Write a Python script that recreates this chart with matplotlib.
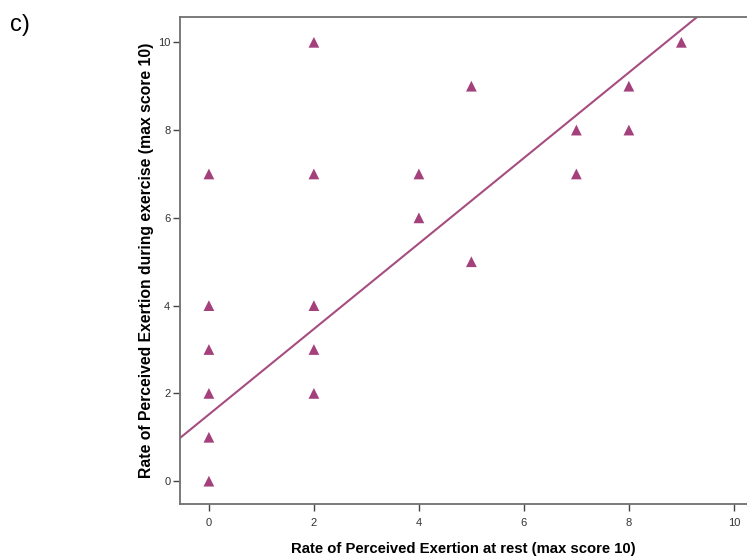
import matplotlib
matplotlib.use('Agg')
import matplotlib.pyplot as plt
import numpy as np

# Rate of perceived exertion: at rest (x) vs during exercise (y)
rest = [0, 0, 0, 0, 0, 0, 2, 2, 2, 2, 2, 4, 4, 5, 5, 7, 7, 8, 8, 9]
exercise = [0, 1, 2, 3, 4, 7, 2, 3, 4, 7, 10, 6, 7, 5, 9, 7, 8, 8, 9, 10]

# fit line
fit_intercept = 1.52
fit_slope = 0.974

ticks = [0, 2, 4, 6, 8, 10]
colour = '#a4417c'

fig = plt.figure(figsize=(7.47, 5.58), dpi=100)
ax = fig.add_axes([0.241, 0.0968, 0.759, 0.873])

xlim = (-0.55, 10.25)
ylim = (-0.52, 10.58)

xs = np.array(xlim)
ax.plot(xs, fit_intercept + fit_slope * xs, color='#a64d80', lw=1.5, zorder=2)
ax.scatter(rest, exercise, marker='^', s=60, color=colour, edgecolors='none', zorder=3)

ax.set_xlim(*xlim)
ax.set_ylim(*ylim)
ax.set_xticks(ticks)
ax.set_yticks(ticks)

for side in ['left', 'top', 'bottom']:
    ax.spines[side].set_color('#707070')
    ax.spines[side].set_linewidth(1.3)
ax.spines['right'].set_visible(False)

ax.tick_params(direction='out', length=5, width=1, color='#444444',
               labelsize=8, labelcolor='#333333', pad=2)
for lab in ax.get_xticklabels() + ax.get_yticklabels():
    lab.set_family('Liberation Sans')
ax.tick_params(axis='x', pad=5)

ax.set_xlabel('Rate of Perceived Exertion at rest (max score 10)',
              fontsize=10.7, fontweight='bold', family='Liberation Sans', labelpad=10)
ax.set_ylabel('Rate of Perceived Exertion during exercise (max score 10)',
              fontsize=11.3, fontweight='bold', family='Liberation Sans', labelpad=3)

fig.text(0.013, 0.955, 'c)', fontsize=17, family='Liberation Sans', va='center')

fig.savefig('out.png', dpi=100)
